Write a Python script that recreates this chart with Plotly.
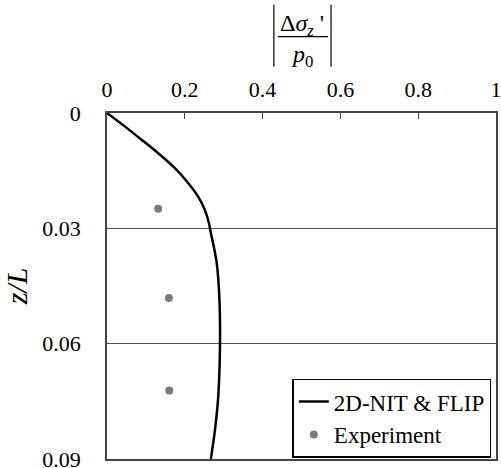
import plotly.graph_objects as go

# Simulation curve (2D-NIT & FLIP)
sim_x = [0.0, 0.0456, 0.0886, 0.131, 0.174, 0.2086, 0.234, 0.2515, 0.262, 0.267, 0.275, 0.282, 0.2887, 0.2905, 0.286, 0.2776, 0.267]
sim_z = [0.0, 0.00348, 0.00694, 0.0104, 0.0143, 0.0182, 0.0217, 0.0252, 0.0286, 0.0312, 0.035, 0.039, 0.0477, 0.0603, 0.0737, 0.0824, 0.09]

# Experiment
exp_x = [0.1315, 0.159, 0.160]
exp_z = [0.0249, 0.0481, 0.0722]

x_ticks = [0, 0.2, 0.4, 0.6, 0.8, 1]
x_labels = ["0", "0.2", "0.4", "0.6", "0.8", "1"]
y_ticks = [0, 0.03, 0.06, 0.09]
y_labels = ["0", "0.03", "0.06", "0.09"]

FONT = "Liberation Serif"

fig = go.Figure()
fig.add_trace(go.Scatter(x=sim_x, y=sim_z, mode="lines", name="2D-NIT & FLIP",
                         line=dict(color="black", width=2.5, shape="spline", smoothing=0.6)))
fig.add_trace(go.Scatter(x=exp_x, y=exp_z, mode="markers", name="Experiment",
                         marker=dict(color="#7a7a7a", size=8)))

fig.update_layout(
    width=501, height=468,
    margin=dict(l=107, r=5, t=113, b=9, autoexpand=False),
    paper_bgcolor="white", plot_bgcolor="white",
    font=dict(family=FONT, color="black", size=20),
    showlegend=True,
    legend=dict(x=0.988, y=0.004, xanchor="right", yanchor="bottom",
                bgcolor="white", bordercolor="black", borderwidth=1.5,
                font=dict(family=FONT, size=23, color="black"),
                tracegroupgap=0, itemwidth=30),
    xaxis=dict(side="top", range=[0, 1], tickvals=x_ticks, ticktext=x_labels,
               ticks="inside", ticklen=6, tickcolor="#444", tickwidth=1,
               showgrid=False, zeroline=False, showline=True, linecolor="#444",
               linewidth=1.5, mirror=True, ticklabelstandoff=5,
               ticklabeloverflow="allow", automargin=False,
               tickfont=dict(family=FONT, size=22)),
    yaxis=dict(range=[0.09, 0], tickvals=y_ticks, ticktext=y_labels,
               ticks="", showgrid=True, gridcolor="#555", gridwidth=1,
               zeroline=False, showline=True, linecolor="#444", linewidth=1.5,
               mirror=True, ticklabelstandoff=20, ticklabeloverflow="allow",
               automargin=False,
               tickfont=dict(family=FONT, size=22),
               title=dict(text="<i>z/L</i>", font=dict(family=FONT, size=30), standoff=14)),
)

# Title as fraction |Δσz'/p0|
fig.add_annotation(xref="paper", yref="paper", x=0.5, y=1.255, showarrow=False,
                   text="Δ<i>σ</i><sub><i>z</i></sub> '", font=dict(family=FONT, size=24),
                   xanchor="center", yanchor="middle")
fig.add_annotation(xref="paper", yref="paper", x=0.5, y=1.165, showarrow=False,
                   text="<i>p</i><sub>0</sub>", font=dict(family=FONT, size=24),
                   xanchor="center", yanchor="middle")
line_style = dict(color="black", width=1.2)
fig.add_shape(type="line", xref="paper", yref="paper", x0=0.439, x1=0.568, y0=1.2205, y1=1.2205, line=line_style)
fig.add_shape(type="line", xref="paper", yref="paper", x0=0.429, x1=0.429, y0=1.134, y1=1.313, line=line_style)
fig.add_shape(type="line", xref="paper", yref="paper", x0=0.576, x1=0.576, y0=1.134, y1=1.313, line=line_style)

fig.write_html("out.html", config={"displayModeBar": False},
               post_script="document.body.style.margin='0';document.body.style.overflow='hidden';")
